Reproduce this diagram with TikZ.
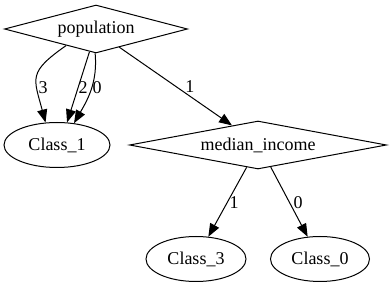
\documentclass[tikz,border=0pt]{standalone}
\usepackage{fontspec}
\setmainfont{Liberation Serif}
\usetikzlibrary{shapes.geometric,arrows.meta}
\begin{document}
\begin{tikzpicture}[x=1pt,y=-1pt,
  every node/.style={font=\fontsize{18}{20}\selectfont},
  test/.style={draw, diamond, inner sep=0pt, line width=1pt,
    minimum width=#1, minimum height=48pt},
  leaf/.style={draw, ellipse, inner sep=0pt, line width=1pt,
    minimum width=#1, minimum height=45pt},
  edge/.style={-{Triangle[length=13pt,width=10pt]}, line width=1pt},
  lbl/.style={inner sep=0pt}]
\useasboundingbox (0,0) rectangle (392,291);

% decision nodes
\node[test=183pt, aspect=3.8] (pop) at (96,29) {population};
\node[test=257pt, aspect=5.35] (inc) at (258,145) {median\_income};

% leaves
\node[leaf=106pt] (c1) at (57,145) {Class\_1};
\node[leaf=100pt] (c3) at (196,259) {Class\_3};
\node[leaf=99pt]  (c0) at (320,259) {Class\_0};

% branches of population
\draw[edge] (pop.209) to[out=215, in=105, looseness=1.5] (c1.117);
\draw[edge] (pop.254) -- (c1.66);
\draw[edge] (pop.268) to[out=275, in=60] (c1.52);
\draw[edge] (pop.322) -- (inc.143);

% branches of median_income
\draw[edge] (inc.243) -- (c3.61);
\draw[edge] (inc.300) -- (c0.119);

% branch labels
\node[lbl] (l3) at (43,88) {3};
\node[lbl] (l2) at (83,88) {2};
\node[lbl] (l0) at (97,88) {0};
\node[lbl] (l1) at (190,87) {1};
\node[lbl] (m1) at (234,203) {1};
\node[lbl] (m0) at (298,203) {0};
\end{tikzpicture}
\end{document}
